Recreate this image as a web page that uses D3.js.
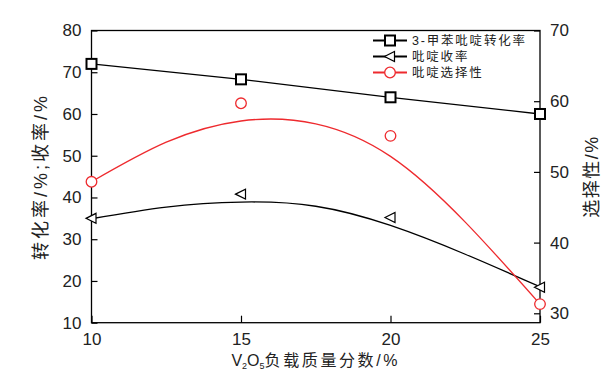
<!DOCTYPE html>
<html>
<head>
<meta charset="utf-8">
<script src="https://cdn.jsdelivr.net/npm/d3@7"></script>
<style>
  body { margin: 0; background: #fff; }
  text { font-family: "Liberation Sans", "Noto Sans CJK SC", sans-serif; }
</style>
</head>
<body>
<div class="workspace"></div>
<script>
// measured points
const loading = [10, 15, 20, 25];
const conversion = [72.0, 68.3, 64.0, 60.0];
const pyYield = [35.0, 40.8, 35.2, 18.5];
const selectivity = [48.6, 59.7, 55.1, 31.3];

// fitted curves
const fitX = [10, 12.5, 15, 17.5, 20, 22.5, 25];
const yieldFit = [34.9, 37.7, 38.9, 37.9, 33.3, 26.4, 18.6];
const selectivityFit = [48.6, 54.2, 57.2, 56.8, 52.2, 42.9, 31.3];

const leftTicks = [10, 20, 30, 40, 50, 60, 70, 80];
const rightTicks = [30, 40, 50, 60, 70];
const bottomTicks = [10, 15, 20, 25];

const legendNames = ['3-甲苯吡啶转化率', '吡啶收率', '吡啶选择性'];

const width = 615;
const height = 384;
const red = '#ee2a2e';

const svg = d3
  .select('.workspace')
  .append('svg')
  .attr('width', width)
  .attr('height', height);

const x = d3.scaleLinear().domain([10, 25]).range([91.5, 540]);
const yLeft = d3.scaleLinear().domain([10, 80]).range([322.7, 30.5]);
const yRight = d3.scaleLinear().domain([28.67, 70]).range([322.7, 30.5]);

// axes, ticks pointing inward
const axisLeft = d3.axisLeft(yLeft).tickValues(leftTicks).tickSize(-6).tickPadding(10);
const axisRight = d3.axisRight(yRight).tickValues(rightTicks).tickSize(-6).tickPadding(10);
const axisBottom = d3.axisBottom(x).tickValues(bottomTicks).tickSize(-7).tickPadding(10);

function styleAxis(g) {
  g.select('.domain').remove();
  g.selectAll('.tick line').attr('stroke', '#000').attr('stroke-width', 1.2);
  g.selectAll('.tick text')
    .attr('fill', '#222')
    .style('font-size', '17px')
    .style('font-family', '"Liberation Sans", sans-serif');
}

svg.append('g').attr('transform', `translate(${x(10)},0)`).call(axisLeft).call(styleAxis);
svg.append('g').attr('transform', `translate(${x(25)},0)`).call(axisRight).call(styleAxis);
svg.append('g').attr('transform', `translate(0,${yLeft(10)})`).call(axisBottom).call(styleAxis);

// frame
svg
  .append('rect')
  .attr('x', x(10))
  .attr('y', yLeft(80))
  .attr('width', x(25) - x(10))
  .attr('height', yLeft(10) - yLeft(80))
  .attr('fill', 'none')
  .attr('stroke', '#000')
  .attr('stroke-width', 1.3);

// lines
const convLine = d3
  .line()
  .x((d, i) => x(loading[i]))
  .y((d) => yLeft(d));

svg
  .append('path')
  .datum(conversion)
  .attr('d', convLine)
  .attr('fill', 'none')
  .attr('stroke', '#000')
  .attr('stroke-width', 1.3);

const yieldLine = d3
  .line()
  .x((d, i) => x(fitX[i]))
  .y((d) => yLeft(d))
  .curve(d3.curveNatural);

svg
  .append('path')
  .datum(yieldFit)
  .attr('d', yieldLine)
  .attr('fill', 'none')
  .attr('stroke', '#000')
  .attr('stroke-width', 1.3);

const selLine = d3
  .line()
  .x((d, i) => x(fitX[i]))
  .y((d) => yRight(d))
  .curve(d3.curveNatural);

svg
  .append('path')
  .datum(selectivityFit)
  .attr('d', selLine)
  .attr('fill', 'none')
  .attr('stroke', red)
  .attr('stroke-width', 1.3);

// markers
function square(g, cx, cy) {
  g.append('rect')
    .attr('x', cx - 5)
    .attr('y', cy - 5)
    .attr('width', 10)
    .attr('height', 10)
    .attr('fill', '#fff')
    .attr('stroke', '#000')
    .attr('stroke-width', 2);
}
function triangle(g, cx, cy) {
  g.append('path')
    .attr('d', `M${cx - 5.5},${cy} L${cx + 4.5},${cy - 5} L${cx + 4.5},${cy + 5} Z`)
    .attr('fill', '#fff')
    .attr('stroke', '#000')
    .attr('stroke-width', 1.2);
}
function circle(g, cx, cy) {
  g.append('circle')
    .attr('cx', cx)
    .attr('cy', cy)
    .attr('r', 5.3)
    .attr('fill', '#fff')
    .attr('stroke', red)
    .attr('stroke-width', 1.3);
}

const marks = svg.append('g');
loading.forEach((v, i) => {
  triangle(marks, x(v), yLeft(pyYield[i]));
  circle(marks, x(v), yRight(selectivity[i]));
  square(marks, x(v), yLeft(conversion[i]));
});

// legend
const legendColors = ['#000', '#000', red];
const legendMarks = [square, triangle, circle];
const legend = svg.append('g');
legendNames.forEach((name, i) => {
  const cy = 40.5 + i * 16;
  legend
    .append('line')
    .attr('x1', 373)
    .attr('x2', 407)
    .attr('y1', cy)
    .attr('y2', cy)
    .attr('stroke', legendColors[i])
    .attr('stroke-width', 1.8);
  legendMarks[i](legend, 390, cy);
  legend
    .append('text')
    .attr('x', 412)
    .attr('y', cy + 4.5)
    .attr('fill', '#222')
    .style('font-size', '12.5px')
    .style('letter-spacing', '1.8px')
    .text(name);
});

// axis titles
const xTitle = svg
  .append('text')
  .attr('x', (x(10) + x(25)) / 2)
  .attr('y', 366)
  .attr('text-anchor', 'middle')
  .attr('fill', '#222')
  .style('font-size', '16px');
xTitle.append('tspan').text('V');
xTitle.append('tspan').attr('dy', 3).style('font-size', '9px').text('2');
xTitle.append('tspan').attr('dy', -3).text('O');
xTitle.append('tspan').attr('dy', 3).style('font-size', '9px').text('5');
xTitle
  .append('tspan')
  .attr('dy', -3)
  .style('letter-spacing', '2.6px')
  .text('负载质量分数/%');

svg
  .append('text')
  .attr('transform', `translate(47,${(yLeft(10) + yLeft(80)) / 2}) rotate(-90)`)
  .attr('text-anchor', 'middle')
  .attr('fill', '#222')
  .style('font-size', '18px')
  .style('letter-spacing', '3px')
  .text('转化率/%;收率/%');

svg
  .append('text')
  .attr('transform', `translate(598,${(yLeft(10) + yLeft(80)) / 2}) rotate(-90)`)
  .attr('text-anchor', 'middle')
  .attr('fill', '#222')
  .style('font-size', '18px')
  .style('letter-spacing', '1.5px')
  .text('选择性/%');
</script>
</body>
</html>
